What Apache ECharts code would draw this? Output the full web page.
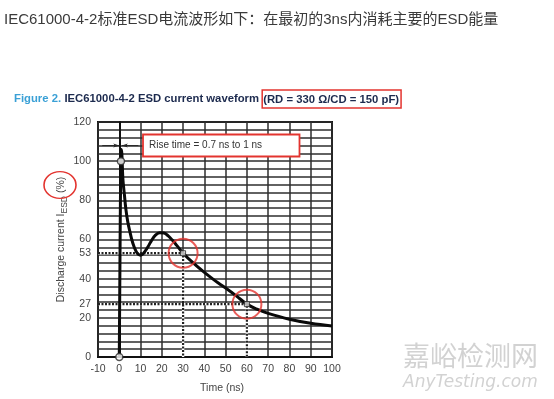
<!DOCTYPE html>
<html><head><meta charset="utf-8">
<script src="https://cdn.jsdelivr.net/npm/echarts@6/dist/echarts.min.js"></script>
<style>html,body{margin:0;padding:0;background:#fff}#c{width:554px;height:399px}</style>
</head><body><div id="c"></div>
<script>
// ---- data ----
const timeNs  = [0, 0.7, 0.9, 1.2, 1.7, 2.4, 3.1, 4.0, 5.0, 6.0, 7.0, 8.0, 9.0, 10.0, 11.0, 12.0, 13.5, 15, 17, 19, 21, 23, 25, 27, 30, 35, 40, 45, 50, 55, 60, 65, 70, 80, 90, 100];
const current = [0, 100, 106, 104, 91, 83, 75.5, 69, 64, 59.5, 56.2, 53.8, 52.4, 52.0, 52.5, 53.8, 56.3, 59.2, 62.2, 63.4, 63.3, 61.8, 59.6, 57, 53, 47.8, 43.2, 39, 35.2, 31.2, 27, 24.3, 22.3, 19.3, 17.2, 15.8];
const yTickLabels = [0, 20, 27, 40, 53, 60, 80, 100, 120];
const refPoint30 = [30, 53];
const refPoint60 = [60, 27];
const openMarkers = [[0, 0], [0.8, 100]];
const riseArrowY = 108;

const chart = echarts.init(document.getElementById('c'));
const curveData = timeNs.map((t, i) => [t, current[i]]);
const dark = '#2a2a2a';
const latin = 'Liberation Sans, Arial, sans-serif';
const guide30 = [[-10, refPoint30[1]], refPoint30, [refPoint30[0], 0]];
const guide60 = [[-10, refPoint60[1]], refPoint60, [refPoint60[0], 0]];

chart.setOption({
  animation: false,
  backgroundColor: '#fff',
  grid: { left: 98, right: 222, top: 122, bottom: 40, show: true, borderColor: '#111', borderWidth: 2 },
  xAxis: {
    type: 'value', min: -10, max: 100, interval: 10,
    name: 'Time (ns)', nameLocation: 'middle', nameGap: 26,
    nameTextStyle: { color: '#444', fontSize: 10.5, fontFamily: latin, padding: [0, 0, 0, 14] },
    axisLine: { show: true, lineStyle: { color: '#111', width: 2 } },
    axisTick: { show: false },
    axisLabel: { color: '#444', fontSize: 10.5, fontFamily: latin, margin: 7 },
    splitLine: { show: true, lineStyle: { color: '#2e2e2e', width: 1.5 } }
  },
  yAxis: [{
    type: 'value', min: 0, max: 120, interval: 20,
    name: '{a|Discharge current I}{s|ESD}{a| (%)}', nameLocation: 'middle', nameRotate: 90, nameGap: 29,
    nameTextStyle: { rich: {
      a: { fontSize: 10.5, color: '#444', fontFamily: latin },
      s: { fontSize: 8.5, color: '#444', fontFamily: latin, padding: [6, 0, 0, 0] }
    } },
    axisLine: { show: true, lineStyle: { color: '#111', width: 2 } },
    axisTick: { show: false },
    axisLabel: { color: '#444', fontSize: 10.5, fontFamily: latin, margin: 7, customValues: yTickLabels },
    splitLine: { show: false }
  }, {
    type: 'value', min: 0, max: 120, interval: 4, position: 'left',
    axisLine: { show: false }, axisTick: { show: false }, axisLabel: { show: false },
    splitLine: { show: true, lineStyle: { color: '#2e2e2e', width: 1.5 } }
  }],
  series: [
    { type: 'line', data: guide30, symbol: 'none', silent: true,
      lineStyle: { color: '#fff', width: 2.4 }, z: 2 },
    { type: 'line', data: guide60, symbol: 'none', silent: true,
      lineStyle: { color: '#fff', width: 2.4 }, z: 2 },
    { type: 'line', data: guide30, symbol: 'none',
      lineStyle: { color: '#222', width: 2.2, type: [2, 1.5] }, z: 3 },
    { type: 'line', data: guide60, symbol: 'none',
      lineStyle: { color: '#222', width: 2.2, type: [2, 1.5] }, z: 3 },
    { type: 'line', data: curveData, symbol: 'none', smooth: 0.4,
      lineStyle: { color: '#0a0a0a', width: 3 }, z: 5,
      markLine: {
        silent: true, symbol: ['circle', 'arrow'], symbolSize: [3, 6],
        lineStyle: { color: dark, width: 1, type: 'solid' }, label: { show: false },
        data: [
          [{ coord: [-8, riseArrowY], symbol: 'none' }, { coord: [0, riseArrowY] }],
          [{ coord: [9, riseArrowY], symbol: 'none' }, { coord: [1.2, riseArrowY] }]
        ]
      }
    },
    { type: 'scatter', data: openMarkers, symbol: 'circle', symbolSize: 7,
      itemStyle: { color: '#fff', borderColor: dark, borderWidth: 1.5 }, z: 6 },
    { type: 'scatter', data: [refPoint30, refPoint60], symbol: 'rect', symbolSize: 5,
      itemStyle: { color: '#ddd', borderColor: dark, borderWidth: 1 }, z: 6 },
    { type: 'scatter', data: [refPoint30, refPoint60], symbol: 'circle', symbolSize: 29,
      itemStyle: { color: 'rgba(0,0,0,0)', borderColor: '#e3342f', borderWidth: 2 }, z: 7 }
  ],
  graphic: [
    { type: 'text', left: 4, top: 12, style: { text: 'IEC61000-4-2标准ESD电流波形如下：在最初的3ns内消耗主要的ESD能量',
        font: '15px "Liberation Sans", "Noto Sans CJK SC", sans-serif', fill: '#3a3a3a' } },
    { type: 'text', x: 14, y: 99, style: {
        text: '{b|Figure 2.} {n|IEC61000-4-2 ESD current waveform }{r|(RD = 330 Ω/CD = 150 pF)}',
        verticalAlign: 'middle',
        rich: {
          b: { fontSize: 11.3, fontWeight: 'bold', fill: '#3aa0d6', fontFamily: latin },
          n: { fontSize: 11.3, fontWeight: 'bold', fill: '#1c2a4e', fontFamily: latin },
          r: { fontSize: 11.3, fontWeight: 'bold', fill: '#1c2a4e', fontFamily: latin,
               borderColor: '#e3342f', borderWidth: 1.5, padding: [4, 2, 3, 1] }
        } } },
    { type: 'rect', shape: { x: 143, y: 134.5, width: 156.5, height: 22 },
      style: { fill: '#fff', stroke: '#e3342f', lineWidth: 1.8 }, z: 10 },
    { type: 'text', x: 149, y: 145.5, z: 11, style: { text: 'Rise time = 0.7 ns to 1 ns', verticalAlign: 'middle',
        font: '10px "Liberation Sans", Arial, sans-serif', fill: '#333' } },
    { type: 'circle', x: 60, y: 185, scaleY: 0.84, shape: { cx: 0, cy: 0, r: 16 },
      style: { fill: 'none', stroke: '#e3342f', lineWidth: 1.6 }, z: 10 },
    { type: 'text', x: 403, y: 356, style: { text: '嘉峪检测网', verticalAlign: 'middle',
        font: '27px "Noto Sans CJK SC", sans-serif', fill: '#d2d2d2' } },
    { type: 'text', x: 403, y: 383, style: { text: 'AnyTesting.com', verticalAlign: 'middle',
        font: 'italic 17px "DejaVu Sans", sans-serif', fill: '#d2d2d2' } }
  ]
});
</script></body></html>
